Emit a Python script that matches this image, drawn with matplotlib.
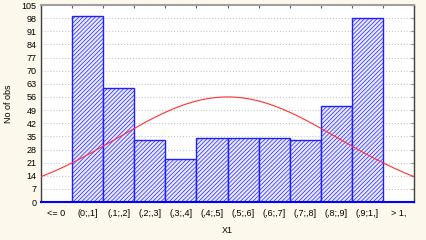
import numpy as np
import matplotlib.pyplot as plt

plt.rcParams['font.family'] = ['Liberation Sans', 'DejaVu Sans']
plt.rcParams['hatch.linewidth'] = 0.5

categories = ["<= 0", "(0;,1]", "(,1;,2]", "(,2;,3]", "(,3;,4]", "(,4;,5]",
              "(,5;,6]", "(,6;,7]", "(,7;,8]", "(,8;,9]", "(,9;1,]", "> 1,"]
counts = [0, 99, 61, 33, 23, 34, 34, 34, 33, 51, 98, 0]
yticks = list(range(0, 106, 7))

# fitted normal curve parameters (expected counts)
n_obs = sum(counts)
bin_width = 0.1
mean_x1 = 0.5
sd_x1 = 0.356

fig = plt.figure(figsize=(4.27, 2.4), dpi=100)
fig.patch.set_facecolor('#fdf8ec')
ax = fig.add_axes([0.096, 0.158, 0.874, 0.821])
ax.set_facecolor('white')

x = np.arange(len(categories))
ax.bar(x, counts, width=1.0, facecolor='#e8e8ff', edgecolor='#2020ff',
       hatch='////////', linewidth=1.0, zorder=2)

# normal curve: category position -> value
xs = np.linspace(-0.5, len(categories) - 0.5, 300)
vals = (xs - 0.5) * bin_width
pdf = np.exp(-0.5 * ((vals - mean_x1) / sd_x1) ** 2) / (sd_x1 * np.sqrt(2 * np.pi))
ax.plot(xs, n_obs * bin_width * pdf, color='#ff3030', linewidth=0.8, zorder=3)

ax.set_xlim(-0.5, len(categories) - 0.5)
ax.set_ylim(0, 105)
ax.set_xticks(x)
ax.set_xticklabels(categories, fontsize=6.5)
ax.set_yticks(yticks)
ax.tick_params(axis='y', labelsize=6.5, length=0, pad=3)
ax.tick_params(axis='x', length=0, pad=5)
ax.yaxis.grid(True, linestyle=':', color='#c8c8c8', linewidth=0.8, zorder=0)
ax.set_axisbelow(True)

# top boundary ticks and right-side ticks
ax2 = ax.secondary_xaxis('top')
ax2.set_xticks(np.arange(-0.5, len(categories) + 0.5, 1.0))
ax2.tick_params(direction='in', length=2, labeltop=False, color='#606060')
ay2 = ax.secondary_yaxis('right')
ay2.set_yticks(yticks)
ay2.tick_params(direction='in', length=2, labelright=False, color='#606060')

for side, col, lw in [('top', '#a0a0a0', 1.5), ('right', '#404040', 1.0),
                      ('left', '#404040', 1.0), ('bottom', '#0000ff', 1.5)]:
    ax.spines[side].set_color(col)
    ax.spines[side].set_linewidth(lw)
ax2.spines['top'].set_visible(False)
ay2.spines['right'].set_visible(False)

ax.set_xlabel("X1", fontsize=6.5, labelpad=6)
ax.set_ylabel("No of obs", fontsize=6.5, labelpad=6)

fig.savefig("out.png", dpi=100, facecolor=fig.get_facecolor())
